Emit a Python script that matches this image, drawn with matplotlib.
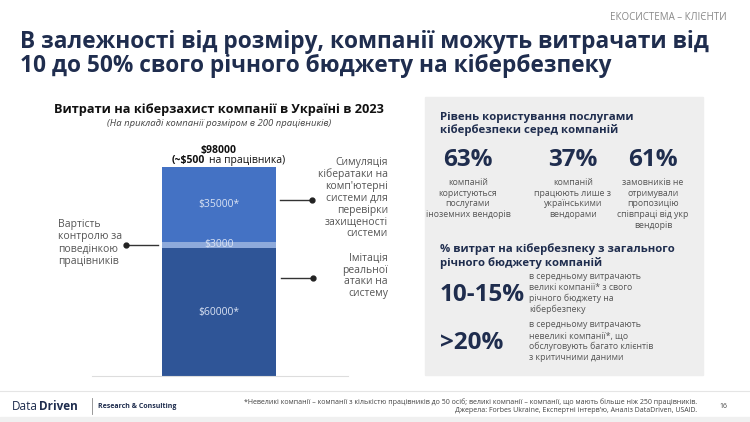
import matplotlib
matplotlib.use("Agg")
import matplotlib.pyplot as plt
from matplotlib.patches import Rectangle
from matplotlib.lines import Line2D

plt.rcParams["font.family"] = "Open Sans"

segments = ["Імітація реальної атаки на систему", "Вартість контролю за поведінкою працівників",
            "Симуляція кібератаки"]
values = [60000, 3000, 35000]
seg_labels = ["$60000*", "$3000", "$35000*"]
seg_colors = ["#2f5597", "#8eaadb", "#4472c4"]
total_label = "$98000"

stats_top = ["63%", "37%", "61%"]
stats_top_txt = ["компаній\nкористуються\nпослугами\nіноземних вендорів",
                 "компаній\nпрацюють лише з\nукраїнськими\nвендорами",
                 "замовників не\nотримували\nпропозицію\nспівпраці від укр\nвендорів"]
stats_bot = ["10-15%", ">20%"]
stats_bot_txt = ["в середньому витрачають\nвеликі компанії* з свого\nрічного бюджету на\nкібербезпеку",
                 "в середньому витрачають\nневеликі компанії*, що\nобслуговують багато клієнтів\nз критичними даними"]

W, H = 750, 422
fig = plt.figure(figsize=(7.5, 4.22), dpi=100)
NAVY = "#1f2d4e"
GREY = "#555555"

def T(x, y, s, **kw):
    fig.text(x / W, 1 - y / H, s, **kw)

def L(x0, y0, x1, y1, **kw):
    fig.add_artist(Line2D([x0 / W, x1 / W], [1 - y0 / H, 1 - y1 / H], transform=fig.transFigure, **kw))

def dot(x, y):
    fig.add_artist(Line2D([x / W], [1 - y / H], marker="o", ms=3.5, color="#222222",
                          transform=fig.transFigure))

# header
T(727, 18, "ЕКОСИСТЕМА – КЛІЄНТИ", ha="right", va="center", fontsize=7, color="#888888")
T(20, 42, "В залежності від розміру, компанії можуть витрачати від", fontsize=16.3,
  fontweight="bold", color=NAVY, va="center")
T(20, 66, "10 до 50% свого річного бюджету на кібербезпеку", fontsize=16.3,
  fontweight="bold", color=NAVY, va="center")

# chart title
T(219, 109, "Витрати на кіберзахист компанії в Україні в 2023", ha="center", va="center",
  fontsize=9.2, fontweight="bold", color="#111111")
T(219, 124, "(На прикладі компанії розміром в 200 працівників)", ha="center", va="center",
  fontsize=6.8, style="italic", color="#444444")

# bar axes
ax_l, ax_r, ax_b, ax_t = 90, 350, 376, 167
ax = fig.add_axes([ax_l / W, 1 - ax_b / H, (ax_r - ax_l) / W, (ax_b - ax_t) / H])
ax.set_xlim(ax_l, ax_r)
ax.set_ylim(0, sum(values))
bottom = 0
for v, c, lab in zip(values, seg_colors, seg_labels):
    ax.bar(219, v, width=114, bottom=bottom, color=c)
    ax.text(219, bottom + v / 2, lab, ha="center", va="center", fontsize=7.5, color="#d9e2f3")
    bottom += v
ax.axis("off")
L(92, 376, 348, 376, color="#dddddd", lw=0.8)

T(219, 151, total_label, ha="center", va="center", fontsize=7.5, fontweight="bold", color="#111111")
T(172, 161, "(~$500", ha="left", va="center", fontsize=7.5, fontweight="bold", color="#111111")
T(209, 161, "на працівника)", ha="left", va="center", fontsize=7.5, color="#111111")

# annotations
AF = 7.5
T(58, 243, "Вартість\nконтролю за\nповедінкою\nпрацівників", ha="left", va="center",
  fontsize=AF, color=GREY, linespacing=1.15)
L(126, 245, 158, 245, color="#333333", lw=1); dot(126, 245)
T(388, 198, "Симуляція\nкібератаки на\nкомп'ютерні\nсистеми для\nперевірки\nзахищеності\nсистеми",
  ha="right", va="center", fontsize=AF, color=GREY, linespacing=1.1)
L(280, 200, 312, 200, color="#333333", lw=1); dot(312, 200)
T(388, 276, "Імітація\nреальної\nатаки на\nсистему", ha="right", va="center", fontsize=AF,
  color=GREY, linespacing=1.1)
L(281, 278, 313, 278, color="#333333", lw=1); dot(313, 278)

# right panel
fig.add_artist(Rectangle((425 / W, 1 - 375 / H), 278 / W, 278 / H, transform=fig.transFigure,
                         color="#eeeeee", zorder=0))
T(440, 124, "Рівень користування послугами\nкібербезпеки серед компаній", va="center", fontsize=8.2,
  fontweight="bold", color=NAVY, linespacing=1.2)
for cx, s, t in zip([468, 573, 653], stats_top, stats_top_txt):
    T(cx, 160, s, ha="center", va="center", fontsize=17.5, fontweight="bold", color=NAVY)
    T(cx, 178, t, ha="center", va="top", fontsize=6.3, color=GREY, linespacing=1.25)
T(440, 256, "% витрат на кібербезпеку з загального\nрічного бюджету компаній", va="center", fontsize=8.2,
  fontweight="bold", color=NAVY, linespacing=1.2)
for y, s, t in zip([295, 343], stats_bot, stats_bot_txt):
    T(440, y, s, ha="left", va="center", fontsize=17.5, fontweight="bold", color=NAVY)
    T(529, y - 2, t, ha="left", va="center", fontsize=6.3, color=GREY, linespacing=1.25)

# footer
L(0, 391, W, 391, color="#e5e5e5", lw=0.8)
fig.add_artist(Rectangle((0, 0), 1, 5 / H, transform=fig.transFigure, color="#f0f0f0", zorder=0))
T(12, 406, "Data", ha="left", va="center", fontsize=8.5, color=NAVY)
T(39, 406, "Driven", ha="left", va="center", fontsize=8.5, fontweight="bold", color=NAVY)
L(92, 398, 92, 414, color="#888888", lw=0.6)
T(98, 406, "Research & Consulting", ha="left", va="center", fontsize=5, fontweight="bold", color=NAVY)
T(697, 402, "*Невеликі компанії – компанії з кількістю працівників до 50 осіб; великі компанії – компанії, що мають більше ніж 250 працівників.",
  ha="right", va="center", fontsize=5, color="#444444")
T(697, 411, "Джерела: Forbes Ukraine, Експертні інтерв'ю, Аналіз DataDriven, USAID.",
  ha="right", va="center", fontsize=5, color="#444444")
T(727, 406, "16", ha="right", va="center", fontsize=5, color="#444444")

fig.savefig("out.png", dpi=100, facecolor="white")
